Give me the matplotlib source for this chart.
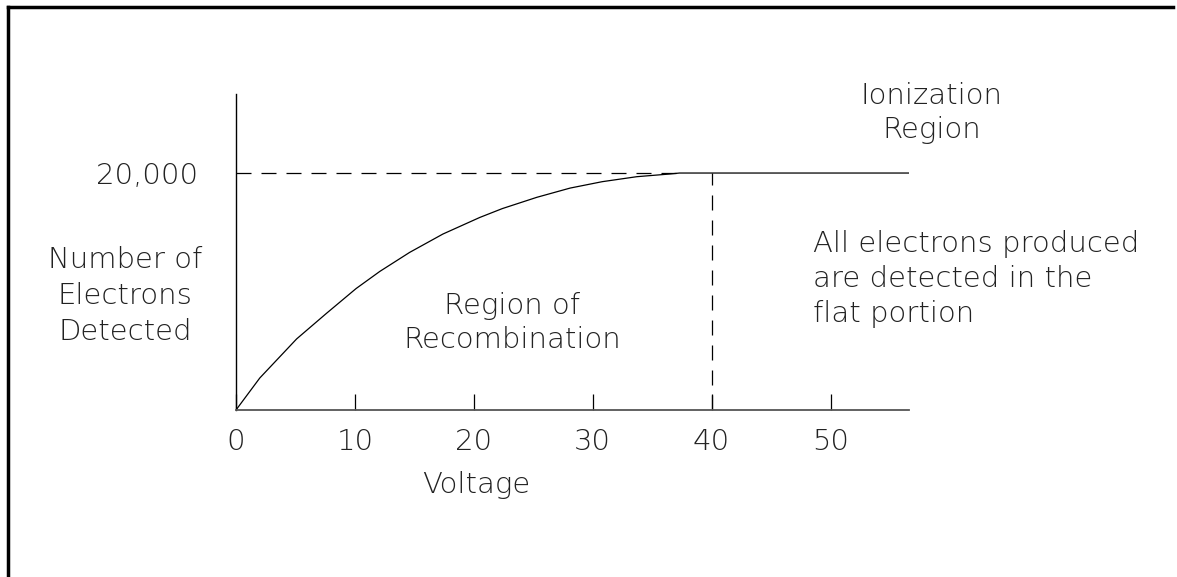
'''
Ionization chamber response: electrons detected vs. voltage.
'''

import matplotlib.pyplot as plt
from matplotlib.lines import Line2D

# curve (voltage, electrons detected)
voltage = [0, 2.0, 5.1, 7.6, 10.1, 12.1, 14.6, 17.4, 20.5, 22.4, 25.3, 28.1,
           30.8, 33.7, 36.5, 37.3, 56.6]
electrons = [0, 2700, 6000, 8150, 10250, 11700, 13300, 14850, 16250, 17000,
             17950, 18730, 19270, 19690, 19920, 20000, 20000]

plateau = 20000
plateau_start = 37.3
flat_start_voltage = 40
x_ticks = [0, 10, 20, 30, 40, 50]
x_max = 56.6
y_max = 26670


def main():
    fig = plt.figure(figsize=(11.77, 5.77), dpi=100)
    ax = fig.add_axes([236 / 1177, 167 / 577, 673 / 1177, 316 / 577])

    font = dict(family="DejaVu Sans", fontweight="light", color="#222222", fontsize=21)

    # frame around the drawing (top and left only)
    fig.add_artist(Line2D([8 / 1177, 1173 / 1177], [570 / 577, 570 / 577], color="black", lw=2.5, transform=fig.transFigure))
    fig.add_artist(Line2D([8 / 1177, 8 / 1177], [0, 570 / 577], color="black", lw=2.5, transform=fig.transFigure))

    # response curve and guides
    ax.plot(voltage, electrons, color="black", lw=0.9)
    ax.plot([0, plateau_start], [plateau, plateau], color="black", lw=0.9, dashes=(12, 8))
    ax.plot([flat_start_voltage, flat_start_voltage], [0, plateau], color="black", lw=0.9, dashes=(12, 8))

    ax.set_xlim(0, x_max)
    ax.set_ylim(0, y_max)

    for side in ["top", "right"]:
        ax.spines[side].set_visible(False)
    ax.spines["left"].set_linewidth(1.0)
    ax.spines["bottom"].set_linewidth(1.3)
    ax.spines["bottom"].set_color("#555555")

    ax.set_xticks(x_ticks)
    ax.set_xticklabels([str(t) for t in x_ticks], **font)
    ax.tick_params(axis="x", direction="in", length=11.5, width=0.9, pad=13)
    ax.set_yticks([plateau])
    ax.set_yticklabels(["20,000"], **font)
    ax.tick_params(axis="y", length=0, pad=27)

    # labels and annotations
    fig.text(125 / 1177, 1 - 296 / 577, "Number of\nElectrons\nDetected", ha="center", va="center", linespacing=1.38, **font)
    fig.text(476 / 1177, 1 - 485 / 577, "Voltage", ha="center", va="center", **font)
    fig.text(512 / 1177, 1 - 323 / 577, "Region of\nRecombination", ha="center", va="center", linespacing=1.3, **font)
    fig.text(932 / 1177, 1 - 113 / 577, "Ionization\nRegion", ha="center", va="center", linespacing=1.26, **font)
    fig.text(813 / 1177, 1 - 279 / 577, "All electrons produced\nare detected in the\nflat portion", ha="left", va="center", linespacing=1.3, **font)

    fig.savefig("out.png", dpi=100)


if __name__ == "__main__":
    main()
